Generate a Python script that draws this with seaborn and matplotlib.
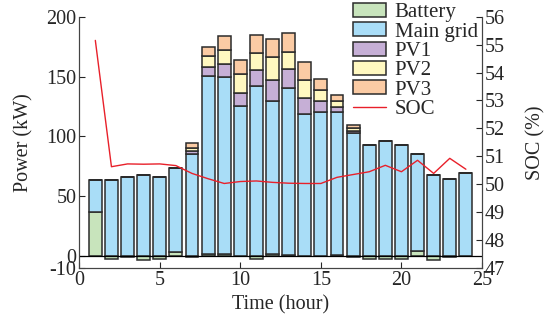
import numpy as np
import pandas as pd
import matplotlib
matplotlib.use("Agg")
import matplotlib.pyplot as plt
import seaborn as sns

sns.set_theme(style="ticks")
plt.rcParams["font.family"] = ["Liberation Serif", "DejaVu Serif"]
plt.rcParams["font.size"] = 14.5
plt.rcParams["axes.unicode_minus"] = False
plt.rcParams["xtick.direction"] = "in"
plt.rcParams["ytick.direction"] = "in"

# hourly dispatch data (kW)
hours = list(range(1, 25))
battery = [37, -2, -0.5, -3, -2.5, 3.5, -0.5, 2, 1.5, 0.5, -2, 1.5,
           1, 0.5, 0.5, 1, -0.5, -2.5, -2.5, -2.5, 4.5, -3.6, -1, 0.5]
main_grid = [27, 64, 66, 67.5, 66, 70, 85.5, 148.5, 148, 124.5, 141.7, 128.2,
             139.3, 118, 119.5, 119.3, 102.8, 92.5, 96, 92.5, 81, 67.8, 64.5, 69]
pv1 = [0, 0, 0, 0, 0, 0, 2, 7.7, 11, 11.2, 13.9, 17.6,
       16.4, 13.9, 9.7, 4.1, 2, 0, 0, 0, 0, 0, 0, 0]
pv2 = [0, 0, 0, 0, 0, 0, 3, 9, 11.7, 16.1, 13.8, 19.4,
       13.6, 14.8, 9.2, 5.3, 2.5, 0, 0, 0, 0, 0, 0, 0]
pv3 = [0, 0, 0, 0, 0, 0, 4, 7.7, 11.6, 11.6, 15, 14.4,
       15.8, 15, 8.9, 4.8, 2.2, 0, 0, 0, 0, 0, 0, 0]
# battery state of charge (%)
soc = [55.15, 50.63, 50.73, 50.72, 50.73, 50.67, 50.39, 50.2, 50.03, 50.1, 50.12, 50.07,
       50.04, 50.03, 50.03, 50.25, 50.35, 50.45, 50.68, 50.45, 50.86, 50.39, 50.93, 50.54]

df = pd.DataFrame({"hour": hours, "Battery": battery, "Main grid": main_grid,
                   "PV1": pv1, "PV2": pv2, "PV3": pv3, "SOC": soc})

colors = {"Battery": "#c8e4bc", "Main grid": "#a9ddf7", "PV1": "#c6afd6",
          "PV2": "#fff8c0", "PV3": "#fbcba4"}

fig, ax = plt.subplots(figsize=(5.54, 3.2), dpi=100)
fig.subplots_adjust(left=0.143, right=0.870, bottom=0.162, top=0.948)

# stack: battery first (can be negative), others on top of positive part
bottom = np.clip(df["Battery"].to_numpy(), 0, None)
ax.bar(df["hour"], df["Battery"], width=0.8, color=colors["Battery"],
       edgecolor="#2b2b2b", linewidth=1.1, label="Battery")
for name in ["Main grid", "PV1", "PV2", "PV3"]:
    ax.bar(df["hour"], df[name], width=0.8, bottom=bottom, color=colors[name],
           edgecolor="#2b2b2b", linewidth=1.1, label=name)
    bottom = bottom + df[name].to_numpy()

ax.axhline(0, color="black", lw=0.9, zorder=3)
ax.set_xlim(0, 25)
ax.set_ylim(-10, 200)
ax.set_xticks([0, 5, 10, 15, 20, 25])
ax.set_yticks([-10, 0, 50, 100, 150, 200])
ax.set_xlabel("Time (hour)", fontsize=14.5, labelpad=4)
ax.set_ylabel("Power (kW)", fontsize=14.5, labelpad=9)
ax.spines["top"].set_visible(False)

ax2 = ax.twinx()
sns.lineplot(data=df, x="hour", y="SOC", ax=ax2, color="#e8202a", lw=1.0, label="SOC")
ax2.set_ylim(47, 56)
ax2.set_yticks(range(47, 57))
ax2.set_ylabel("SOC (%)", fontsize=14.5, labelpad=15)
ax2.spines["top"].set_visible(False)
ax2.get_legend().remove()

for a in (ax, ax2):
    a.tick_params(length=4, width=0.8, pad=2, labelsize=14.5)
    for s in a.spines.values():
        s.set_linewidth(0.8)
        s.set_color("#444444")

h1, l1 = ax.get_legend_handles_labels()
h2, l2 = ax2.get_legend_handles_labels()
leg = ax.legend(h1 + h2, l1 + l2, loc="upper right", bbox_to_anchor=(1.0, 1.07),
                frameon=False, fontsize=15, labelspacing=0.0, handlelength=1.6,
                handleheight=0.65, handletextpad=0.4, borderpad=0.1, borderaxespad=0.1)

fig.savefig("out.png", dpi=100)
